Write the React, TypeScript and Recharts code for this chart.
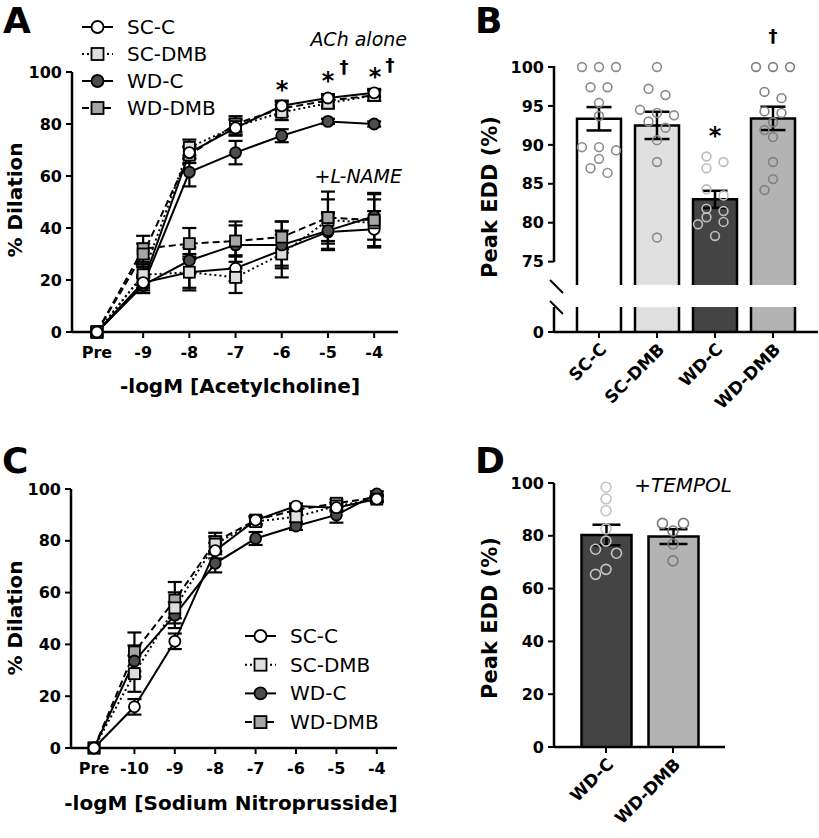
import React from "react";
import {
  LineChart, Line, XAxis, YAxis, ErrorBar, ComposedChart, Bar, Scatter,
} from "recharts";

const FONT = "'DejaVu Sans', 'Liberation Sans', sans-serif";

// groups and their look
const GROUPS = ["SC-C", "SC-DMB", "WD-C", "WD-DMB"];
const MARKER_FILL = ["#ffffff", "#dedede", "#4d4d4d", "#a6a6a6"];
const MARKER_SHAPE = ["circle", "square", "circle", "square"];
const LINE_DASH: (string | undefined)[] = [undefined, "2 3", undefined, "7 4"];
const BAR_FILL = ["#ffffff", "#e0e0e0", "#444444", "#b3b3b3"];

// A: acetylcholine, alone and +L-NAME
const achLabels = ["Pre", "-9", "-8", "-7", "-6", "-5", "-4"];
const achScC = [0, 19, 69, 78.5, 87, 90, 92];
const achScCErr = [null, 2, 2.5, 3, 1.5, 1.5, 1.5];
const achScDmb = [0, 22, 71, 79, 84.5, 88, 91];
const achScDmbErr = [null, 3, 3, 3, 3, 2, 2];
const achWdC = [0, 18, 61.5, 69, 75.5, 81, 80];
const achWdCErr = [null, 3, 5.5, 4.5, 2.5, 1, 1];
const achWdDmb = [0, 30, 68, 80, 86, 89, 91];
const achWdDmbErr = [null, 4, 3, 3, 3, 2, 2];
const lnScC = [0, 19, 23, 24.5, 31.5, 38.5, 39.5];
const lnScCErr = [null, 3, 6, 5, 6, 7, 7];
const lnScDmb = [0, 22, 23, 21, 30, 43, 42];
const lnScDmbErr = [null, 4, 7, 6, 9, 8, 9];
const lnWdC = [0, 18, 27.5, 33.5, 33.5, 39, 44.5];
const lnWdCErr = [null, 3, 5, 9, 9, 7, 9];
const lnWdDmb = [0, 32, 34, 35, 36.5, 44, 43];
const lnWdDmbErr = [null, 5, 6, 6, 6, 10, 10];

// C: sodium nitroprusside
const snpLabels = ["Pre", "-10", "-9", "-8", "-7", "-6", "-5", "-4"];
const snpScC = [0, 15.9, 41.2, 76.2, 88, 93.4, 92.8, 96.1];
const snpScCErr = [null, 3, 3, 3, 1.5, 1, 1.5, 1];
const snpScDmb = [0, 28.7, 54.1, 78.7, 87.4, 89.3, 93.4, 96.1];
const snpScDmbErr = [null, 7, 6, 3, 1.5, 2, 1.5, 1];
const snpWdC = [0, 33.6, 51.3, 71.3, 80.9, 85.7, 90, 98.1];
const snpWdCErr = [null, 6, 5, 3.5, 2.5, 1.5, 3, 1];
const snpWdDmb = [0, 37.1, 57.1, 79.6, 88, 91.9, 94.5, 96.8];
const snpWdDmbErr = [null, 7.5, 7, 3.5, 1.5, 1.5, 1.5, 1];

// B: peak EDD, ACh alone
const bMeans = [93.35, 92.5, 83.0, 93.4];
const bSem = [1.5, 1.75, 1.1, 1.5];
const bScC = [100, 100, 100, 97.4, 97.4, 95.4, 93.7, 89.7, 89.7, 89.3, 88.2, 87.0, 86.4];
const bScDmb = [100, 97.2, 96.4, 94.5, 94.1, 93.8, 93.0, 92.2, 90.6, 87.8, 78.1];
const bWdC = [88.5, 87.8, 87.0, 84.3, 83.5, 81.8, 81.5, 80.7, 80.1, 79.8, 78.3];
const bWdDmb = [100, 100, 100, 96.8, 96.0, 94.3, 94.1, 92.9, 91.9, 91.0, 87.8, 85.6, 84.2];
const bDotColor = ["#8c8c8c", "#8c8c8c", "#bdbdbd", "#808080"];

// D: peak EDD +TEMPOL
const dGroups = ["WD-C", "WD-DMB"];
const dMeans = [80.3, 79.7];
const dSem = [3.9, 2.8];
const dWdC = [98.4, 94.0, 89.5, 82.6, 78.0, 74.9, 73.4, 67.3, 65.4];
const dWdDmb = [84.7, 84.7, 81.8, 76.9, 70.5];
const dDotColor = ["#c4c4c4", "#7a7a7a"];

const AXIS_LINE = { stroke: "#000", strokeWidth: 2.5 };
const TICK_LINE = { stroke: "#000", strokeWidth: 2 };
const TICK = { fill: "#000", fontSize: 16, fontWeight: 700 };

type Series = { key: string; gi: number; values: number[]; errors: (number | null)[] };

const achSeries: Series[] = [
  { key: "lnScC", gi: 0, values: lnScC, errors: lnScCErr },
  { key: "lnScDmb", gi: 1, values: lnScDmb, errors: lnScDmbErr },
  { key: "lnWdC", gi: 2, values: lnWdC, errors: lnWdCErr },
  { key: "lnWdDmb", gi: 3, values: lnWdDmb, errors: lnWdDmbErr },
  { key: "achWdDmb", gi: 3, values: achWdDmb, errors: achWdDmbErr },
  { key: "achWdC", gi: 2, values: achWdC, errors: achWdCErr },
  { key: "achScDmb", gi: 1, values: achScDmb, errors: achScDmbErr },
  { key: "achScC", gi: 0, values: achScC, errors: achScCErr },
];
const snpSeries: Series[] = [
  { key: "snpWdDmb", gi: 3, values: snpWdDmb, errors: snpWdDmbErr },
  { key: "snpWdC", gi: 2, values: snpWdC, errors: snpWdCErr },
  { key: "snpScDmb", gi: 1, values: snpScDmb, errors: snpScDmbErr },
  { key: "snpScC", gi: 0, values: snpScC, errors: snpScCErr },
];

function toRows(n: number, series: Series[]) {
  return Array.from({ length: n }, (_, i) => {
    const r: any = { x: i };
    series.forEach((s) => {
      r[s.key] = s.values[i];
      r[s.key + "Err"] = s.errors[i];
    });
    return r;
  });
}

// beeswarm: runs of near-equal values sit in a centred row,
// lone points get pushed sideways until they clear what is already placed
function swarm(values: number[], pxPerUnit: number, bandPx: number, step: number, minDist: number, tol: number) {
  const placed: { x: number; y: number }[] = [];
  const out: number[] = [];
  let i = 0;
  while (i < values.length) {
    let j = i + 1;
    while (j < values.length && Math.abs(values[j] - values[i]) <= tol) j++;
    const n = j - i;
    if (n > 1) {
      for (let k = 0; k < n; k++) {
        const off = (k - (n - 1) / 2) * 2 * step;
        placed.push({ x: off, y: values[i + k] * pxPerUnit });
        out.push(off / bandPx);
      }
    } else {
      const y = values[i] * pxPerUnit;
      let chosen = 0;
      for (let k = 0; k < 40; k++) {
        const off = k === 0 ? 0 : (k % 2 ? -1 : 1) * Math.ceil(k / 2) * step;
        if (placed.every((p) => Math.hypot(p.x - off, p.y - y) >= minDist)) {
          chosen = off;
          break;
        }
      }
      placed.push({ x: chosen, y });
      out.push(chosen / bandPx);
    }
    i = j;
  }
  return out;
}

function markerDot(gi: number, size: number) {
  return (p: any) => {
    const k = `m-${gi}-${p.index}`;
    if (p.cx == null || p.cy == null) return <g key={k} />;
    const h = size / 2;
    return MARKER_SHAPE[gi] === "circle" ? (
      <circle key={k} cx={p.cx} cy={p.cy} r={h} fill={MARKER_FILL[gi]} stroke="#000" strokeWidth={1.8} />
    ) : (
      <rect key={k} x={p.cx - h} y={p.cy - h} width={size} height={size} fill={MARKER_FILL[gi]} stroke="#000" strokeWidth={1.8} />
    );
  };
}

function DosePanel({ labels, series, domain, margin }: any) {
  const rows = toRows(labels.length, series);
  return (
    <LineChart width={420} height={400} data={rows} margin={margin}>
      <XAxis
        dataKey="x" type="number" domain={domain} ticks={labels.map((_: string, i: number) => i)}
        tickFormatter={(v) => labels[v]} interval={0} height={40}
        axisLine={AXIS_LINE} tickLine={TICK_LINE} tickSize={6} tickMargin={9} tick={TICK}
      />
      <YAxis
        domain={[0, 100]} ticks={[0, 20, 40, 60, 80, 100]} width={60}
        axisLine={AXIS_LINE} tickLine={TICK_LINE} tickSize={6} tickMargin={4} tick={TICK}
      />
      {series.map((s: Series) => (
        <Line
          key={s.key} dataKey={s.key} stroke="#000" strokeWidth={2} strokeDasharray={LINE_DASH[s.gi]}
          dot={markerDot(s.gi, 11)} activeDot={false} isAnimationActive={false}
        >
          <ErrorBar dataKey={s.key + "Err"} width={7} strokeWidth={2.2} stroke="#000" />
        </Line>
      ))}
    </LineChart>
  );
}

// bar outline without a bottom edge, so cut bars stay open
function OpenBar(p: any) {
  const gi = GROUPS.indexOf(p.group ?? p.payload?.group);
  const { x, y, width, height } = p;
  if (x == null || height == null) return <g />;
  return (
    <g>
      <rect x={x} y={y} width={width} height={height} fill={BAR_FILL[gi]} />
      <path d={`M${x},${y + height} V${y} H${x + width} V${y + height}`} fill="none" stroke="#000" strokeWidth={2.5} />
    </g>
  );
}

function dotShape(color: string, r: number) {
  return (p: any) => <circle cx={p.cx} cy={p.cy} r={r} fill="none" stroke={color} strokeWidth={1.6} />;
}

const bRows = GROUPS.map((g, i) => ({ group: g, mean: bMeans[i], sem: bSem[i] }));
const bDots = [bScC, bScDmb, bWdC, bWdDmb].map((vals, gi) => {
  const offs = swarm(vals, 218 / 28, 58, 8.5, 11, 0.8);
  return vals.map((v, j) => ({ x: gi + offs[j], y: v }));
});
const dRows = dGroups.map((g, i) => ({ group: g, mean: dMeans[i], sem: dSem[i] }));
const dDots = [dWdC, dWdDmb].map((vals, gi) => {
  const offs = swarm(vals, 2.64, 67, 10.5, 11.5, 0.8);
  return vals.map((v, j) => ({ x: gi + offs[j], y: v }));
});

function PanelBTop() {
  return (
    <ComposedChart width={399} height={300} data={bRows} margin={{ top: 67, right: 1, bottom: 15, left: 74 }}>
      <XAxis xAxisId="c" dataKey="group" hide padding={{ left: 16, right: 16 }} />
      <XAxis xAxisId="n" dataKey="x" type="number" hide domain={[-0.5, 3.5]} padding={{ left: 16, right: 16 }} />
      <YAxis
        domain={[72, 100]} ticks={[75, 80, 85, 90, 95, 100]} width={60}
        axisLine={false} tickLine={TICK_LINE} tickSize={6} tickMargin={4} tick={TICK}
      />
      <Bar xAxisId="c" dataKey="mean" barSize={44} shape={OpenBar} isAnimationActive={false}>
        <ErrorBar dataKey="sem" width={12.5} strokeWidth={2.5} stroke="#000" />
      </Bar>
      {bDots.map((d, gi) => (
        <Scatter key={gi} xAxisId="n" data={d} dataKey="y" shape={dotShape(bDotColor[gi], 4.4)} isAnimationActive={false} />
      ))}
    </ComposedChart>
  );
}

function PanelBBottom() {
  return (
    <ComposedChart width={399} height={140} data={bRows} margin={{ top: 17, right: 1, bottom: 28, left: 74 }}>
      <XAxis
        dataKey="group" padding={{ left: 16, right: 16 }} height={70} interval={0}
        axisLine={AXIS_LINE} tickLine={TICK_LINE} tickSize={6} tickMargin={4}
        tick={{ ...TICK, fontSize: 17, angle: -45, textAnchor: "end" }}
      />
      <YAxis
        domain={[0, 3.2]} allowDataOverflow ticks={[0]} width={60}
        axisLine={AXIS_LINE} tickLine={TICK_LINE} tickSize={6} tickMargin={4} tick={TICK}
      />
      <Bar dataKey="mean" barSize={44} shape={OpenBar} isAnimationActive={false} />
    </ComposedChart>
  );
}

function PanelD() {
  return (
    <ComposedChart width={399} height={418} data={dRows} margin={{ top: 63, right: 94, bottom: 21, left: 74 }}>
      <XAxis
        xAxisId="c" dataKey="group" padding={{ left: 18.5, right: 18.5 }} height={70} interval={0}
        axisLine={AXIS_LINE} tickLine={TICK_LINE} tickSize={6} tickMargin={4}
        tick={{ ...TICK, fontSize: 17, angle: -45, textAnchor: "end" }}
      />
      <XAxis xAxisId="n" dataKey="x" type="number" hide domain={[-0.5, 1.5]} padding={{ left: 18.5, right: 18.5 }} />
      <YAxis
        domain={[0, 100]} ticks={[0, 20, 40, 60, 80, 100]} width={60}
        axisLine={AXIS_LINE} tickLine={TICK_LINE} tickSize={6} tickMargin={4} tick={TICK}
      />
      <Bar xAxisId="c" dataKey="mean" barSize={50} shape={OpenBar} isAnimationActive={false}>
        <ErrorBar dataKey="sem" width={14} strokeWidth={2.5} stroke="#000" />
      </Bar>
      {dDots.map((d, gi) => (
        <Scatter key={gi} xAxisId="n" data={d} dataKey="y" shape={dotShape(dDotColor[gi], 5)} isAnimationActive={false} />
      ))}
    </ComposedChart>
  );
}

function LegendRows({ x, y, gap }: { x: number; y: number; gap: number }) {
  return (
    <g>
      {GROUPS.map((g, gi) => {
        const cy = y + gi * gap;
        return (
          <g key={g}>
            <line x1={x} x2={x + 31} y1={cy} y2={cy} stroke="#000" strokeWidth={2} strokeDasharray={LINE_DASH[gi]} />
            {markerDot(gi, 12)({ cx: x + 15.5, cy, index: g })}
            <text x={x + 45} y={cy} dominantBaseline="central" fontSize={20} fontFamily={FONT} fill="#000">{g}</text>
          </g>
        );
      })}
    </g>
  );
}

function Overlay() {
  const bold = { fontFamily: FONT, fontWeight: 700, fill: "#000" } as const;
  const ital = { fontFamily: FONT, fontStyle: "italic", fill: "#000", fontSize: 19 } as const;
  return (
    <svg width={819} height={838} style={{ position: "absolute", left: 0, top: 0, pointerEvents: "none" }}>
      <text x={3} y={33} fontSize={36} {...bold}>A</text>
      <text x={475} y={33} fontSize={36} {...bold}>B</text>
      <text x={2} y={473} fontSize={36} {...bold}>C</text>
      <text x={475} y={473} fontSize={36} {...bold}>D</text>

      <text transform="translate(15,200) rotate(-90)" textAnchor="middle" dominantBaseline="central" fontSize={20} {...bold}>% Dilation</text>
      <text transform="translate(15,618) rotate(-90)" textAnchor="middle" dominantBaseline="central" fontSize={20} {...bold}>% Dilation</text>
      <text transform="translate(490,197) rotate(-90)" textAnchor="middle" dominantBaseline="central" fontSize={21} {...bold}>Peak EDD (%)</text>
      <text transform="translate(490,618) rotate(-90)" textAnchor="middle" dominantBaseline="central" fontSize={21} {...bold}>Peak EDD (%)</text>
      <text x={240} y={393} textAnchor="middle" fontSize={20} {...bold}>-logM [Acetylcholine]</text>
      <text x={231} y={810} textAnchor="middle" fontSize={20} {...bold}>-logM [Sodium Nitroprusside]</text>

      <LegendRows x={82} y={27} gap={27} />
      <LegendRows x={245} y={636} gap={28.7} />

      <text x={407} y={46} textAnchor="end" {...ital}>ACh alone</text>
      <text x={402} y={183} textAnchor="end" {...ital}>+L-NAME</text>
      <text x={732} y={492} textAnchor="end" {...ital} fontSize={20}>+TEMPOL</text>

      <text x={282} y={98} textAnchor="middle" fontSize={24} {...bold}>*</text>
      <text x={328} y={89} textAnchor="middle" fontSize={24} {...bold}>*</text>
      <text x={344} y={73} textAnchor="middle" fontSize={18} {...bold}>†</text>
      <text x={375} y={85} textAnchor="middle" fontSize={24} {...bold}>*</text>
      <text x={390} y={71} textAnchor="middle" fontSize={18} {...bold}>†</text>
      <text x={715} y={144} textAnchor="middle" fontSize={24} {...bold}>*</text>
      <text x={773} y={42} textAnchor="middle" fontSize={18} {...bold}>†</text>

      <line x1={554} x2={554} y1={66} y2={262} stroke="#000" strokeWidth={2.5} />
      <line x1={550} x2={563} y1={280} y2={293} stroke="#000" strokeWidth={2} />
      <line x1={550} x2={563} y1={301} y2={314} stroke="#000" strokeWidth={2} />
    </svg>
  );
}

export default function App() {
  return (
    <div style={{ position: "absolute", left: 0, top: 0, width: 819, height: 838, background: "#fff", fontFamily: FONT }}>
      <div style={{ position: "absolute", left: 0, top: 0 }}>
        <DosePanel labels={achLabels} series={achSeries} domain={[-0.54, 6.516]} margin={{ top: 72, right: 22, left: 12, bottom: 28 }} />
      </div>
      <div style={{ position: "absolute", left: 0, top: 420 }}>
        <DosePanel labels={snpLabels} series={snpSeries} domain={[-0.57, 7.5]} margin={{ top: 69, right: 23, left: 11, bottom: 32 }} />
      </div>
      <div style={{ position: "absolute", left: 420, top: 0 }}>
        <PanelBTop />
      </div>
      <div style={{ position: "absolute", left: 420, top: 290 }}>
        <PanelBBottom />
      </div>
      <div style={{ position: "absolute", left: 420, top: 420 }}>
        <PanelD />
      </div>
      <Overlay />
    </div>
  );
}
